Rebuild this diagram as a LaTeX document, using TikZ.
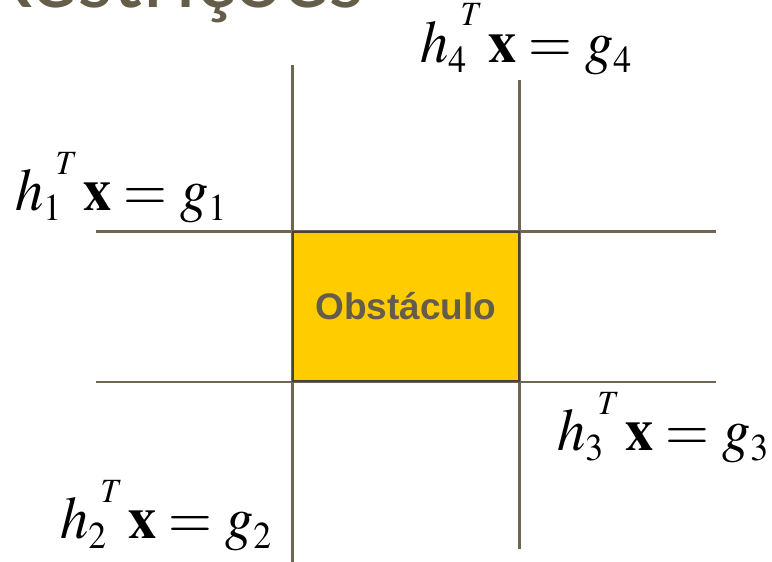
\documentclass[tikz,border=0pt]{standalone}
\usepackage{mathptmx}
\usepackage{fontspec}
\setmainfont{Liberation Serif}
\newfontfamily\titlefont{Carlito}
\newfontfamily\boxfont{Liberation Sans}
\usetikzlibrary{positioning}
\definecolor{olive}{HTML}{645D4A}
\definecolor{rule}{HTML}{6E6553}
\definecolor{edge}{HTML}{4A4333}
\definecolor{gold}{HTML}{FFCC00}
\newcommand{\lowsub}[1]{\raisebox{-0.18em}{\fontsize{38}{40}\selectfont$#1$}}
\newcommand{\hcon}[1]{\scalebox{0.94}[1]{$h\lowsub{#1}\kern-0.1em\raisebox{0.6em}{\fontsize{34}{36}\selectfont$T$}\kern0.1em\mathbf{x}=g\lowsub{#1}$}}

\begin{document}
\begin{tikzpicture}[x=1pt, y=-1pt,
  wall/.style={draw=rule, line width=2.2pt},
  obstacle/.style={draw=edge, line width=2.4pt, fill=gold, minimum width=226pt, minimum height=149pt, inner sep=0pt,
    font=\boxfont\bfseries\fontsize{37}{40}\selectfont, text=olive},
  eq/.style={font=\fontsize{60}{62}\selectfont, inner sep=0pt, anchor=base west},
]
\useasboundingbox[fill=white] (0,0) rectangle (772,562);
\node[font=\titlefont\fontsize{92}{94}\selectfont, text=olive, anchor=base east, inner sep=0pt] (title) at (365,7) {Restrições};
% ends of the four constraint lines
\coordinate (v1top) at (292.5,65);
\coordinate (v1bot) at (292.5,562);
\coordinate (v2top) at (519.5,80);
\coordinate (v2bot) at (519.5,549);
\coordinate (h1left) at (96,231.5);
\coordinate (h1right) at (716,231.5);
\coordinate (h2left) at (96,382);
\coordinate (h2right) at (716,382);
\draw[wall] (v1top) -- (v1bot);
\draw[wall] (v2top) -- (v2bot);
\draw[wall] (h1left) -- (h1right);
\draw[wall] (h2left) -- (h2right);
\node[obstacle] (obst) at (406,306.5) {Obstáculo};
% constraint labels
\node[eq] (eq1) at (15,210) {\hcon{1}};
\node[eq] (eq2) at (60,538) {\hcon{2}};
\node[eq] (eq3) at (557,450) {\hcon{3}};
\node[eq] (eq4) at (420,62) {\hcon{4}};
\end{tikzpicture}
\end{document}
